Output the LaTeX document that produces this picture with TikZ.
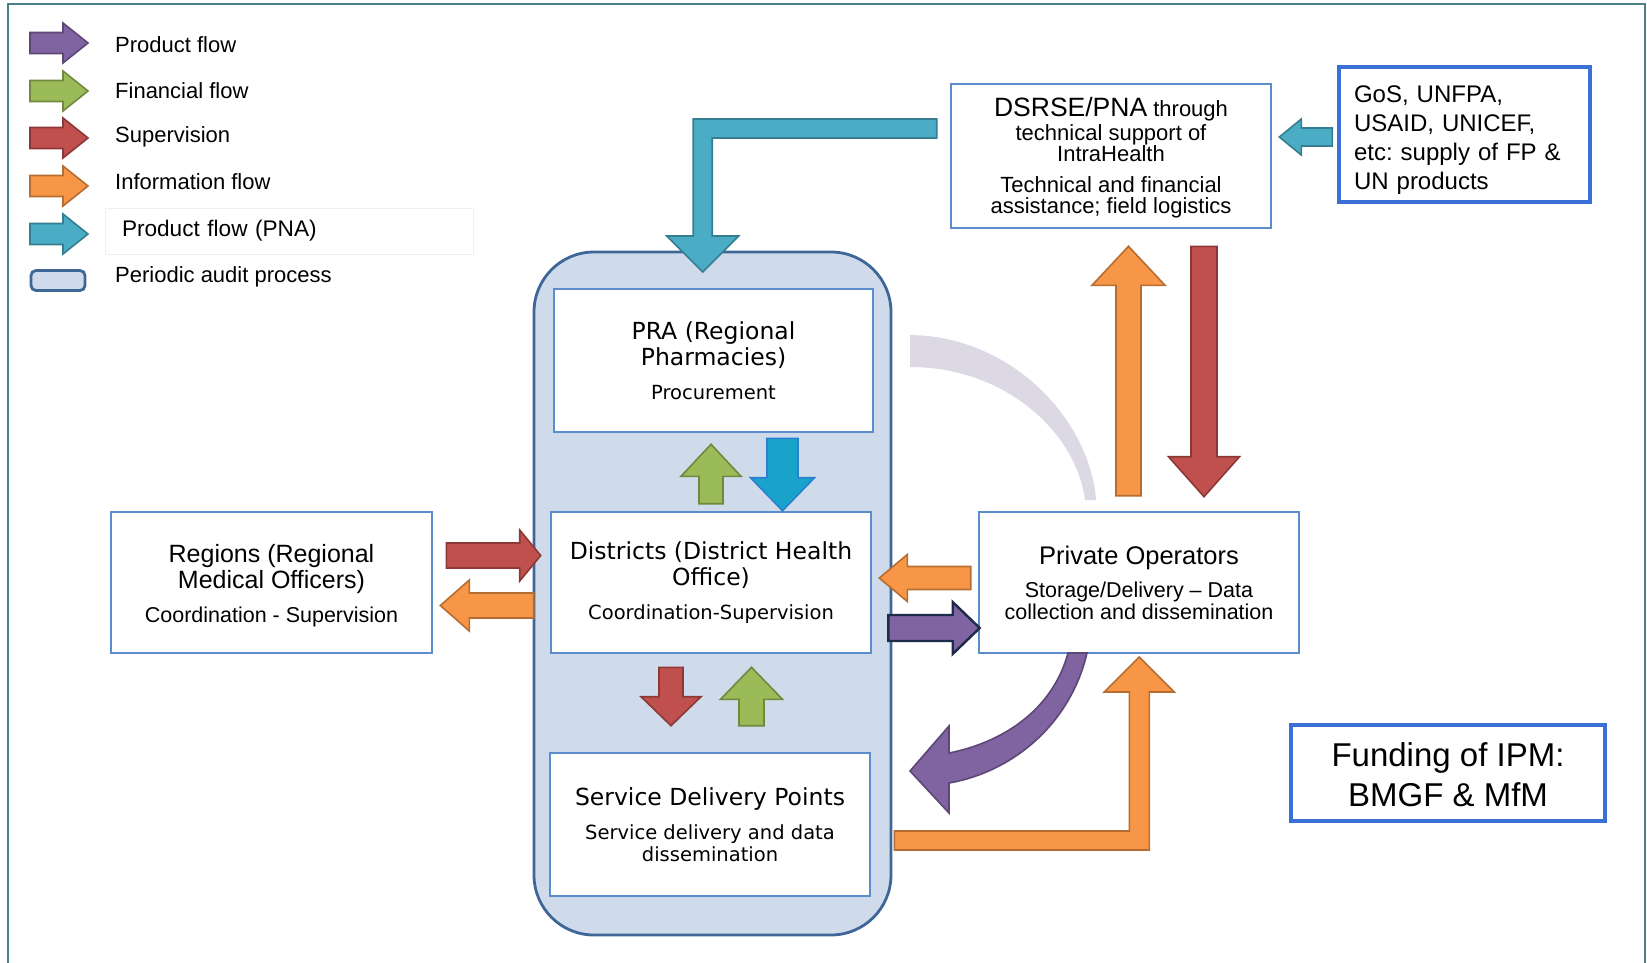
\documentclass[tikz,border=0pt]{standalone}
\usepackage{fontspec}
\setmainfont{Liberation Sans}
\newfontfamily\gothic{DejaVu Sans}
\usetikzlibrary{calc,positioning}
\frenchspacing

% Farben
\definecolor{purfill}{HTML}{8064A2} \definecolor{purline}{HTML}{5C4776}
\definecolor{grnfill}{HTML}{9BBB59} \definecolor{grnline}{HTML}{71893F}
\definecolor{redfill}{HTML}{C0504D} \definecolor{redline}{HTML}{8C3836}
\definecolor{orgfill}{HTML}{F79646} \definecolor{orgline}{HTML}{B66D31}
\definecolor{cyafill}{HTML}{4BACC6} \definecolor{cyaline}{HTML}{357D91}
\definecolor{cybfill}{HTML}{1AA3CA} \definecolor{cybline}{HTML}{2A7FD0}
\definecolor{navyline}{HTML}{1F2B4A}
\definecolor{boxblue}{HTML}{5B8CCB}
\definecolor{strongblue}{HTML}{3A6FD6}
\definecolor{auditfill}{HTML}{CFDBEB} \definecolor{auditline}{HTML}{3E6697}
\definecolor{frameteal}{HTML}{4C8084}
\definecolor{arcgrey}{HTML}{DCD9E5}

% Blockpfeil: Stil, Anfang, Spitze, halbe Schaftbreite, halbe Kopfbreite, Kopflaenge
\newcommand{\blockarrow}[6]{%
  \path #2 coordinate (bt) #3 coordinate (bh);
  \path ($(bh)!#6!(bt)$) coordinate (bc);
  \draw[#1] ($(bt)!#4!90:(bh)$) -- ($(bc)!#4!90:(bh)$) -- ($(bc)!#5!90:(bh)$) -- (bh)
    -- ($(bc)!#5!-90:(bh)$) -- ($(bc)!#4!-90:(bh)$) -- ($(bt)!#4!-90:(bh)$) -- cycle;
}

\begin{document}
\begin{tikzpicture}[x=1pt, y=-1pt,
    arr/.style={line width=1.6pt, line join=miter},
    purplearr/.style={arr, fill=purfill, draw=purline},
    greenarr/.style={arr, fill=grnfill, draw=grnline},
    redarr/.style={arr, fill=redfill, draw=redline},
    orangearr/.style={arr, fill=orgfill, draw=orgline},
    cyanarr/.style={arr, fill=cyafill, draw=cyaline},
    cyanbarr/.style={arr, fill=cybfill, draw=cybline},
    navyarr/.style={arr, fill=purfill, draw=navyline, line width=2.4pt},
    box/.style={draw=boxblue, line width=2.6pt, fill=white, align=center, inner sep=0pt},
    cbox/.style={box, font=\gothic\fontsize{23.5}{26}\selectfont},
    fbox/.style={draw=strongblue, line width=3.4pt, fill=white, inner sep=0pt},
    auditbox/.style={draw=auditline, line width=2.8pt, fill=auditfill, inner sep=0pt},
    legtext/.style={font=\fontsize{22}{24}\selectfont, inner sep=0pt}
  ]
  \useasboundingbox (0,0) rectangle (1647,962);

  % Rahmen
  \draw[frameteal, line width=2.5pt] (8,980) -- (8,4) -- (1645,4) -- (1645,980);

  % Legende
  \foreach \st/\ya/\yt/\txt [count=\i] in {purplearr/43/45/Product flow, greenarr/91/91/Financial flow,
      redarr/138/137/Supervision, orangearr/186/182/Information flow} {
    \blockarrow{\st}{(30,\ya)}{(88,\ya)}{10.5pt}{20pt}{25pt}
    \node[legtext, anchor=west] (leg\i) at (115,\yt) {\txt};
  }
  \blockarrow{cyanarr}{(30,234)}{(88,234)}{10.5pt}{20pt}{25pt}
  \node[legtext, draw=black!6, line width=0.8pt, minimum height=46pt, text width=334pt,
    inner xsep=17pt, align=left, font=\fontsize{22.6}{24}\selectfont] (leg5) at (289,231) {Product flow (PNA)};
  \node[auditbox, rounded corners=5pt, minimum width=54pt, minimum height=20pt] (leg6box) at (58,280.5) {};
  \node[legtext, anchor=west] (leg6) at (115,277) {Periodic audit process};

  % Pruefprozess (Hintergrund)
  \node[auditbox, rounded corners=60pt, minimum width=357pt, minimum height=683pt] (audit) at (712.5,593.5) {};

  % grauer Bogen
  \fill[arcgrey] (910,335) .. controls (1012,336) and (1090,420) .. (1096,500) -- (1085,500)
    .. controls (1076,432) and (1005,367) .. (910,367) -- cycle;

  % Kaesten
  \node[cbox, minimum width=319pt, minimum height=143pt] (pra) at (713.5,360.5)
    {PRA (Regional\\Pharmacies)\\[8pt]{\fontsize{19.5}{22}\selectfont Procurement}};
  \node[cbox, minimum width=320pt, minimum height=141pt] (dist) at (711,582.5)
    {Districts (District Health\\Office)\\[8pt]{\fontsize{19.5}{22}\selectfont Coordination-Supervision}};
  \node[cbox, minimum width=320pt, minimum height=143pt] (sdp) at (710,824.5)
    {Service Delivery Points\\[8pt]{\fontsize{19.5}{22}\selectfont Service delivery and data}\\[-4pt]{\fontsize{19.5}{22}\selectfont dissemination}};
  \node[box, minimum width=321pt, minimum height=141pt, font=\fontsize{25}{26}\selectfont] (reg) at (271.5,582.5)
    {\rule{0pt}{24pt}Regions (Regional\\Medical Officers)\\[8pt]{\fontsize{21.5}{22}\selectfont Coordination - Supervision}};
  \node[box, minimum width=320pt, minimum height=141pt, font=\fontsize{25.5}{26}\selectfont] (priv) at (1139,582.5)
    {Private Operators\\[7pt]{\fontsize{21.5}{22}\selectfont Storage/Delivery – Data}\\[-4pt]{\fontsize{21.5}{22}\selectfont collection and dissemination}};
  \node[box, minimum width=320pt, minimum height=144pt, font=\fontsize{22}{21}\selectfont] (dsrse) at (1111,156)
    {\rule{0pt}{22pt}{\fontsize{26.5}{21}\selectfont DSRSE/PNA} through\\[3pt]technical support of\\IntraHealth\\[10pt]Technical and financial\\assistance; field logistics};
  \node[fbox, minimum height=135pt, text width=221pt, inner xsep=15pt, align=left,
    font=\fontsize{24}{29}\selectfont] (gos) at (1464.5,134.5)
    {\rule{0pt}{27pt}GoS, UNFPA,\\USAID, UNICEF,\\etc: supply of FP \&\\UN products};
  \node[fbox, minimum width=314pt, minimum height=96pt, align=center,
    font=\fontsize{33}{40}\selectfont] (fund) at (1448,773) {\rule{0pt}{27pt}Funding of IPM:\\BMGF \& MfM};

  % Winkelpfeile
  \draw[cyanarr] ($(dsrse.west)+(-13,-37)$) -- ++(-243.5,0) -- ++(0,117) -- ++(-26.5,0) -- ++(36,36)
    -- ++(36,-36) -- ++(-26.5,0) -- ++(0,-98) -- ++(224.5,0) -- cycle;
  \draw[orangearr] ($(sdp.east)+(23,6.5)$) -- ++(235,0) -- ++(0,-139) -- ++(-25,0) -- ++(35,-35)
    -- ++(35,35) -- ++(-25,0) -- ++(0,158) -- ++(-255,0) -- cycle;

  % gebogener Pfeil
  \draw[purplearr] (1068,653) .. controls (1052,712) and (1000,743) .. (949,753) -- (949,726)
    -- (910,771) -- (949,813) -- (949,783) .. controls (1012,772) and (1070,725) .. (1087,653) -- cycle;

  % gerade Pfeile
  \blockarrow{redarr}{($(reg.east)+(13,-27)$)}{($(dist.west)+(-9,-27)$)}{12.5pt}{25.5pt}{21pt}
  \blockarrow{orangearr}{($(dist.west)+(-16,23)$)}{($(reg.east)+(7,23)$)}{12.5pt}{25.5pt}{29pt}
  \blockarrow{greenarr}{($(dist.north)+(0,-7)$)}{($(pra.south)+(-2.5,11)$)}{12pt}{30pt}{32pt}
  \blockarrow{cyanbarr}{($(pra.south)+(69,5)$)}{($(dist.north)+(71.5,0)$)}{15.5pt}{32pt}{33pt}
  \blockarrow{redarr}{($(dist.south)+(-40,13)$)}{($(sdp.north)+(-39,-26)$)}{12pt}{30pt}{29pt}
  \blockarrow{greenarr}{($(sdp.north)+(41.5,-26)$)}{($(dist.south)+(40.5,13)$)}{12.5pt}{31pt}{32pt}
  \blockarrow{orangearr}{($(priv.west)+(-7,-4.5)$)}{($(dist.east)+(7,-4.5)$)}{11.5pt}{23.5pt}{28pt}
  \blockarrow{navyarr}{($(dist.east)+(16,45.5)$)}{($(priv.west)+(2,45.5)$)}{13pt}{26pt}{27pt}
  \blockarrow{orangearr}{($(priv.north)+(-10.5,-15)$)}{($(dsrse.south)+(17.5,17)$)}{12.5pt}{36.5pt}{39pt}
  \blockarrow{redarr}{($(dsrse.south)+(93,17)$)}{($(priv.north)+(65,-14)$)}{13pt}{35.5pt}{40pt}
  \blockarrow{cyanarr}{($(gos.west)+(-5,2.5)$)}{($(dsrse.east)+(7,-19)$)}{9pt}{18pt}{22pt}
\end{tikzpicture}
\end{document}
